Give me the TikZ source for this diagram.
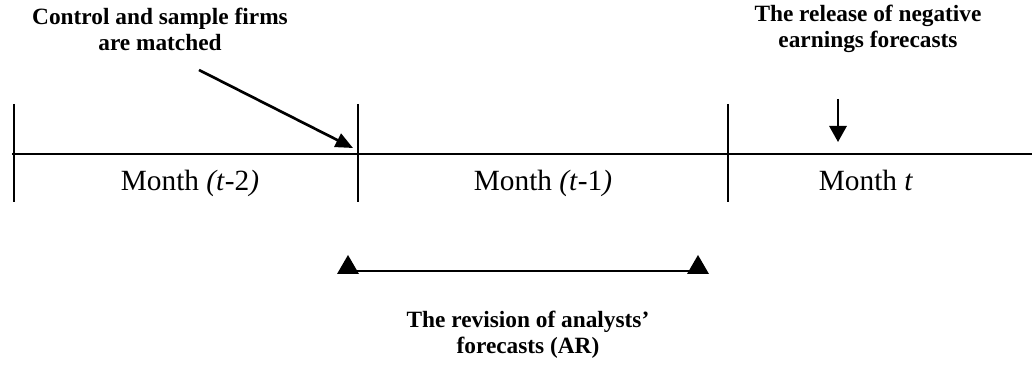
\documentclass[tikz,border=0pt]{standalone}
\usepackage{fontspec}
\setmainfont{Liberation Serif}
\usetikzlibrary{arrows.meta}
\begin{document}
\begin{tikzpicture}[x=0.75pt,y=-0.75pt,
  note/.style={font=\fontsize{17.5}{19.5}\selectfont\bfseries, align=center, inner sep=0pt},
  month/.style={font=\fontsize{22}{24}\selectfont, inner sep=0pt, anchor=base},
  axis/.style={line width=1.5pt},
  tick/.style={line width=1pt},
  arr/.style={line width=2pt, -{Triangle[length=13pt,width=11pt]}},
  tri/.style={fill=black}]
\useasboundingbox (0,0) rectangle (1032,366);
% timeline
\coordinate (tl) at (12,154);
\coordinate (tr) at (1032,154);
\draw[axis] (tl) -- (tr);
% ticks
\coordinate (a1) at (14,104); \coordinate (a2) at (14,202);
\coordinate (b1) at (358,104); \coordinate (b2) at (358,202);
\coordinate (c1) at (728,104); \coordinate (c2) at (728,202);
\draw[tick] (a1) -- (a2);
\draw[tick] (b1) -- (b2);
\draw[tick] (c1) -- (c2);
% month labels
\node[month] (m1) at (190,191) {Month \textit{(t}-2\textit{)}};
\node[month] (m2) at (543,191) {Month \textit{(t}-1\textit{)}};
\node[month] (m3) at (866,191) {Month \textit{t}};
% top notes
\node[note] (n1) at (160,29) {Control and sample firms\\are matched};
\node[note] (n2) at (868,29) {The release of negative\\earnings forecasts};
\coordinate (s1) at (199,70);
\coordinate (e1) at (353,148);
\draw[arr] (s1) -- (e1);
\coordinate (s2) at (838,99);
\coordinate (e2) at (838,142);
\draw[line width=1.5pt, -{Triangle[length=12pt,width=13pt]}] (s2) -- (e2);
% bottom range
\coordinate (L) at (348,271);
\coordinate (R) at (698,271);
\draw[line width=2pt] (L) -- (R);
\fill[tri] (337,274) -- (348,255) -- (359,274) -- cycle;
\fill[tri] (687,274) -- (698,255) -- (709,274) -- cycle;
\node[note] (n3) at (528,335) {The revision of analysts'\\forecasts (AR)};
\end{tikzpicture}
\end{document}
